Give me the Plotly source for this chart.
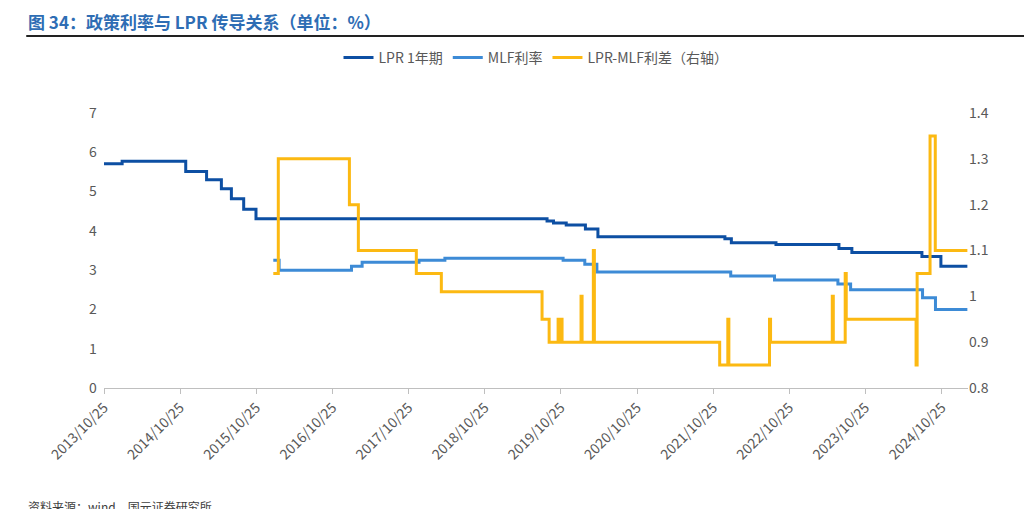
import plotly.graph_objects as go

lpr_dates = ["2013-10-25","2014-01-20","2014-11-21","2015-03-01","2015-05-11","2015-06-28","2015-08-26","2015-10-24",
             "2019-08-20","2019-09-20","2019-11-20","2020-02-20","2020-04-20","2021-12-20","2022-01-20","2022-08-22",
             "2023-06-20","2023-08-21","2024-07-22","2024-10-21","2025-02-25"]
lpr_vals = [5.71,5.77,5.51,5.30,5.07,4.82,4.55,4.31,4.25,4.20,4.15,4.05,3.85,3.80,3.70,3.65,3.55,3.45,3.35,3.10,3.10]

mlf_dates = ["2016-01-15","2016-02-12","2017-01-24","2017-03-16","2017-12-14","2018-04-17","2019-11-05","2020-02-17",
             "2020-04-15","2022-01-17","2022-08-15","2023-06-15","2023-08-15","2024-07-25","2024-09-25","2025-02-25"]
mlf_vals = [3.25,3.00,3.10,3.20,3.25,3.30,3.25,3.15,2.95,2.85,2.75,2.65,2.50,2.30,2.00,2.00]

spr_dates = ["2016-01-15","2016-02-08","2017-01-14","2017-02-26","2017-12-01","2018-03-31","2019-07-27","2019-08-30",
             "2019-10-12","2019-10-17","2019-10-26","2019-10-31","2020-01-30","2020-02-04","2020-03-29","2020-04-03",
             "2021-11-25","2021-12-05","2022-01-03","2022-01-08","2022-07-22","2022-07-27","2023-05-19","2023-05-24",
             "2023-07-20","2023-07-25","2024-06-24","2024-06-29","2024-08-30","2024-09-24","2025-02-25"]
spr_vals = [1.05,1.30,1.20,1.10,1.05,1.01,0.95,0.90,
            0.95,0.90,0.95,0.90,1.00,0.90,1.10,0.90,
            0.85,0.85,0.95,0.85,0.95,0.90,1.00,0.90,
            1.05,0.95,0.85,1.05,1.35,1.10,1.10]

tick_vals = [f"{y}-10-25" for y in range(2013, 2025)]
tick_text = [f"{y}/10/25" for y in range(2013, 2025)]

fig = go.Figure()
fig.add_trace(go.Scatter(x=lpr_dates, y=lpr_vals, name="LPR 1年期", mode="lines",
                         line=dict(color="#0D4FA3", width=3, shape="hv")))
fig.add_trace(go.Scatter(x=mlf_dates, y=mlf_vals, name="MLF利率", mode="lines",
                         line=dict(color="#3D8BD6", width=3, shape="hv")))
fig.add_trace(go.Scatter(x=spr_dates, y=spr_vals, name="LPR-MLF利差（右轴）", mode="lines", yaxis="y2",
                         line=dict(color="#FCB912", width=3, shape="hv")))

gray = "#595959"
fig.update_layout(
    width=1032, height=509, plot_bgcolor="white", paper_bgcolor="white",
    margin=dict(l=96, r=72, t=105, b=129),
    font=dict(family="Noto Sans CJK SC, Arial", size=14, color=gray),
    showlegend=True,
    legend=dict(orientation="h", x=0.5, xanchor="center", y=1.2, yanchor="middle",
                font=dict(size=14, color=gray)),
    xaxis=dict(range=["2013-10-25", "2025-02-28"], tickvals=tick_vals, ticktext=tick_text,
               tickangle=-45, showgrid=False, showline=True, linecolor="#BFBFBF",
               ticks="outside", ticklen=5, tickcolor="#BFBFBF", tickfont=dict(size=14, color=gray)),
    yaxis=dict(range=[0, 7], dtick=1, showgrid=False, zeroline=False, showline=False,
               tickfont=dict(size=14, color=gray), ticksuffix="  "),
    yaxis2=dict(range=[0.8, 1.4], dtick=0.1, overlaying="y", side="right", showgrid=False,
                zeroline=False, showline=False, tickfont=dict(size=14, color=gray)),
    annotations=[
        dict(text="<b>图 34：政策利率与 LPR 传导关系（单位：%）</b>", xref="paper", yref="paper",
             x=-0.09, y=1.0, xanchor="left", yanchor="bottom", yshift=77, showarrow=False,
             font=dict(size=17, color="#2E6DB4")),
        dict(text="资料来源：wind，国元证券研究所", xref="paper", yref="paper",
             x=-0.09, y=0, xanchor="left", yanchor="top", yshift=-108, showarrow=False,
             font=dict(size=12, color="#404040")),
    ],
    shapes=[dict(type="line", xref="paper", yref="paper", x0=-0.09, x1=1.085,
                 ysizemode="pixel", yanchor=1.0, y0=77, y1=77,
                 line=dict(color="#222", width=2))],
)
fig.write_html("out.html")
